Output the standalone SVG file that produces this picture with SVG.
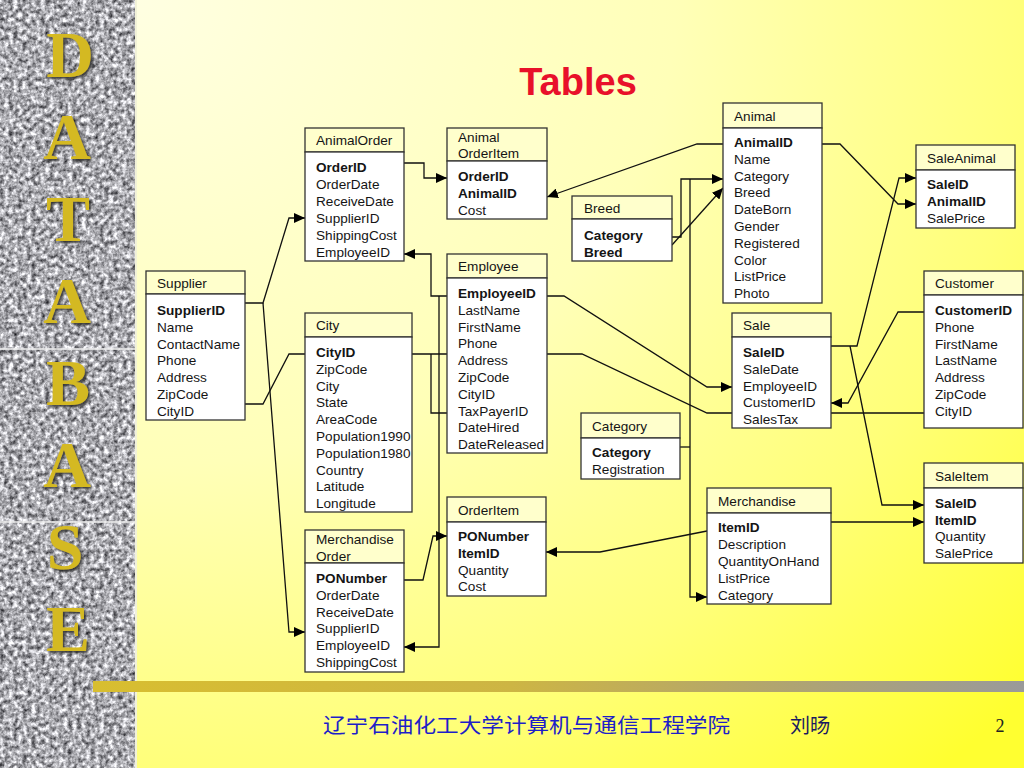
<svg xmlns="http://www.w3.org/2000/svg" width="1024" height="768" viewBox="0 0 1024 768">
<defs>
<radialGradient id="bg" cx="0" cy="0" r="1.35" gradientUnits="objectBoundingBox">
<stop offset="0" stop-color="#FFFFE2"/>
<stop offset="0.45" stop-color="#FFFFB8"/>
<stop offset="0.75" stop-color="#FFFF78"/>
<stop offset="1" stop-color="#FFFF30"/>
</radialGradient>
<linearGradient id="bar" x1="0" y1="0" x2="1" y2="0">
<stop offset="0" stop-color="#D8BE30"/>
<stop offset="0.45" stop-color="#CDB544"/>
<stop offset="0.75" stop-color="#AFA472"/>
<stop offset="1" stop-color="#9A9A9A"/>
</linearGradient>
<filter id="granite" filterUnits="userSpaceOnUse" x="0" y="0" width="137" height="768" color-interpolation-filters="sRGB">
<feTurbulence type="fractalNoise" baseFrequency="0.22" numOctaves="3" seed="4" result="n"/>
<feColorMatrix in="n" type="matrix" values="1.3 0 0 0 0.02  1.3 0 0 0 0.02  1.3 0 0 0 0.04  0 0 0 0 1"/>
</filter>
<filter id="shadow" x="-20%" y="-20%" width="150%" height="150%">
<feDropShadow dx="2" dy="2" stdDeviation="1" flood-color="#2a2a2a" flood-opacity="0.85"/>
</filter>
<marker id="arr" viewBox="0 0 11 10" refX="11" refY="5" markerWidth="11" markerHeight="10" markerUnits="userSpaceOnUse" orient="auto">
<path d="M0,0 L11,5 L0,10 z" fill="#000"/>
</marker>
<style>
.hdr{fill:#FFFFCC;stroke:#333;stroke-width:1.3}
.bdy{fill:#FFFFFF;stroke:#333;stroke-width:1.3}
.t{font-family:"Liberation Sans",Arial,sans-serif;font-size:13.6px;fill:#151515}
.b{font-weight:bold}
.c{fill:none;stroke:#111;stroke-width:1.3}
.ca{fill:none;stroke:#111;stroke-width:1.3;marker-end:url(#arr)}
.side{font-family:"Liberation Serif","Times New Roman",serif;font-weight:bold;font-size:66px;fill:#D4B924;text-anchor:middle}
</style>
</defs>

<!-- background -->
<rect x="137" y="0" width="887" height="768" fill="url(#bg)"/>
<rect x="0" y="0" width="137" height="768" fill="#aaa" filter="url(#granite)"/>
<line x1="136" y1="0" x2="136" y2="768" stroke="#F2F2D8" stroke-width="2"/>
<line x1="0" y1="349" x2="135" y2="349" stroke="#EEEEEE" stroke-width="1.5"/>
<line x1="0" y1="522" x2="135" y2="522" stroke="#EEEEEE" stroke-width="1.5"/>
<g filter="url(#shadow)">
<text class="side" x="70" y="77">D</text>
<text class="side" x="67" y="159">A</text>
<text class="side" x="68" y="241">T</text>
<text class="side" x="67" y="323">A</text>
<text class="side" x="68" y="405">B</text>
<text class="side" x="67" y="487">A</text>
<text class="side" x="65" y="569">S</text>
<text class="side" x="68" y="651">E</text>
</g>
<rect x="93" y="681" width="931" height="11" fill="url(#bar)"/>

<text x="578" y="95" font-family="'Liberation Sans',Arial,sans-serif" font-weight="bold" font-size="38" fill="#E8102A" text-anchor="middle">Tables</text>

<!-- connectors -->
<g id="connectors">
<path class="ca" d="M404,163 H424 V178 H447"/>
<path class="ca" d="M245,303 H263 L289,218 H305"/>
<path class="ca" d="M263,303 L289,632 H305"/>
<path class="c" d="M245,404 H263 L289,354 H305"/>
<path class="c" d="M412,354 H582 L707,413 H924"/>
<path class="c" d="M431,354 V413 H447"/>
<path class="ca" d="M447,296 H431 V254 H404"/>
<path class="ca" d="M439,296 V647 H404"/>
<path class="ca" d="M547,296 H564 L707,387 H732"/>
<path class="ca" d="M723,144 H697 L547,197"/>
<path class="ca" d="M672,237 H681 V179 H723"/>
<path class="ca" d="M672,245 L723,188"/>
<path class="c" d="M680,447 H690"/>
<path class="ca" d="M690,179 V597 H707"/>
<path class="ca" d="M822,144 H840 L898,204 H916"/>
<path class="ca" d="M831,346 H857 L899,178 H916"/>
<path class="ca" d="M850,346 L882,505 H924"/>
<path class="ca" d="M924,312 H898 L848,403 H831"/>
<path class="ca" d="M707,531 L600,552 H546"/>
<path class="ca" d="M831,522 H924"/>
<path class="ca" d="M404,580 H423 L433,536 H447"/>
</g>

<!-- nodes -->
<g id="AnimalOrder">
<rect class="hdr" x="305" y="128" width="99" height="24"/>
<rect class="bdy" x="305" y="152" width="99" height="109"/>
<text class="t" x="316" y="145">AnimalOrder</text>
<text class="t b" x="316" y="172">OrderID</text>
<text class="t" x="316" y="189">OrderDate</text>
<text class="t" x="316" y="206">ReceiveDate</text>
<text class="t" x="316" y="223">SupplierID</text>
<text class="t" x="316" y="240">ShippingCost</text>
<text class="t" x="316" y="257">EmployeeID</text>
</g>

<g id="Supplier">
<rect class="hdr" x="146" y="271" width="99" height="23"/>
<rect class="bdy" x="146" y="294" width="99" height="126"/>
<text class="t" x="157" y="288">Supplier</text>
<text class="t b" x="157" y="315">SupplierID</text>
<text class="t" x="157" y="331.8">Name</text>
<text class="t" x="157" y="348.6">ContactName</text>
<text class="t" x="157" y="365.4">Phone</text>
<text class="t" x="157" y="382.2">Address</text>
<text class="t" x="157" y="399">ZipCode</text>
<text class="t" x="157" y="415.8">CityID</text>
</g>

<g id="City">
<rect class="hdr" x="305" y="313" width="107" height="24"/>
<rect class="bdy" x="305" y="337" width="107" height="175"/>
<text class="t" x="316" y="330">City</text>
<text class="t b" x="316" y="357">CityID</text>
<text class="t" x="316" y="373.8">ZipCode</text>
<text class="t" x="316" y="390.6">City</text>
<text class="t" x="316" y="407.4">State</text>
<text class="t" x="316" y="424.2">AreaCode</text>
<text class="t" x="316" y="441">Population1990</text>
<text class="t" x="316" y="457.8">Population1980</text>
<text class="t" x="316" y="474.6">Country</text>
<text class="t" x="316" y="491.4">Latitude</text>
<text class="t" x="316" y="508.2">Longitude</text>
</g>

<g id="MerchandiseOrder">
<rect class="hdr" x="305" y="530" width="99" height="33"/>
<rect class="bdy" x="305" y="563" width="99" height="109"/>
<text class="t" x="316" y="544">Merchandise</text>
<text class="t" x="316" y="561">Order</text>
<text class="t b" x="316" y="583">PONumber</text>
<text class="t" x="316" y="599.8">OrderDate</text>
<text class="t" x="316" y="616.6">ReceiveDate</text>
<text class="t" x="316" y="633.4">SupplierID</text>
<text class="t" x="316" y="650.2">EmployeeID</text>
<text class="t" x="316" y="667">ShippingCost</text>
</g>

<g id="AnimalOrderItem">
<rect class="hdr" x="447" y="128" width="100" height="33"/>
<rect class="bdy" x="447" y="161" width="100" height="58"/>
<text class="t" x="458" y="142">Animal</text>
<text class="t" x="458" y="158">OrderItem</text>
<text class="t b" x="458" y="181">OrderID</text>
<text class="t b" x="458" y="198">AnimalID</text>
<text class="t" x="458" y="215">Cost</text>
</g>

<g id="Employee">
<rect class="hdr" x="447" y="254" width="100" height="24"/>
<rect class="bdy" x="447" y="278" width="100" height="175"/>
<text class="t" x="458" y="271">Employee</text>
<text class="t b" x="458" y="298">EmployeeID</text>
<text class="t" x="458" y="314.8">LastName</text>
<text class="t" x="458" y="331.6">FirstName</text>
<text class="t" x="458" y="348.4">Phone</text>
<text class="t" x="458" y="365.2">Address</text>
<text class="t" x="458" y="382">ZipCode</text>
<text class="t" x="458" y="398.8">CityID</text>
<text class="t" x="458" y="415.6">TaxPayerID</text>
<text class="t" x="458" y="432.4">DateHired</text>
<text class="t" x="458" y="449.2">DateReleased</text>
</g>

<g id="OrderItem">
<rect class="hdr" x="447" y="497" width="99" height="25"/>
<rect class="bdy" x="447" y="522" width="99" height="74"/>
<text class="t" x="458" y="515">OrderItem</text>
<text class="t b" x="458" y="541">PONumber</text>
<text class="t b" x="458" y="558">ItemID</text>
<text class="t" x="458" y="575">Quantity</text>
<text class="t" x="458" y="591">Cost</text>
</g>

<g id="Breed">
<rect class="hdr" x="572" y="196" width="100" height="23"/>
<rect class="bdy" x="572" y="219" width="100" height="42"/>
<text class="t" x="584" y="213">Breed</text>
<text class="t b" x="584" y="240">Category</text>
<text class="t b" x="584" y="257">Breed</text>
</g>

<g id="Category">
<rect class="hdr" x="581" y="413" width="99" height="25"/>
<rect class="bdy" x="581" y="438" width="99" height="41"/>
<text class="t" x="592" y="431">Category</text>
<text class="t b" x="592" y="457">Category</text>
<text class="t" x="592" y="474">Registration</text>
</g>

<g id="Animal">
<rect class="hdr" x="723" y="103" width="99" height="25"/>
<rect class="bdy" x="723" y="128" width="99" height="175"/>
<text class="t" x="734" y="121">Animal</text>
<text class="t b" x="734" y="147">AnimalID</text>
<text class="t" x="734" y="163.8">Name</text>
<text class="t" x="734" y="180.6">Category</text>
<text class="t" x="734" y="197.4">Breed</text>
<text class="t" x="734" y="214.2">DateBorn</text>
<text class="t" x="734" y="231">Gender</text>
<text class="t" x="734" y="247.8">Registered</text>
<text class="t" x="734" y="264.6">Color</text>
<text class="t" x="734" y="281.4">ListPrice</text>
<text class="t" x="734" y="298.2">Photo</text>
</g>

<g id="Sale">
<rect class="hdr" x="732" y="313" width="99" height="24"/>
<rect class="bdy" x="732" y="337" width="99" height="91"/>
<text class="t" x="743" y="330">Sale</text>
<text class="t b" x="743" y="357">SaleID</text>
<text class="t" x="743" y="374">SaleDate</text>
<text class="t" x="743" y="391">EmployeeID</text>
<text class="t" x="743" y="407">CustomerID</text>
<text class="t" x="743" y="424">SalesTax</text>
</g>

<g id="Merchandise">
<rect class="hdr" x="707" y="488" width="124" height="25"/>
<rect class="bdy" x="707" y="513" width="124" height="91"/>
<text class="t" x="718" y="506">Merchandise</text>
<text class="t b" x="718" y="532">ItemID</text>
<text class="t" x="718" y="549">Description</text>
<text class="t" x="718" y="566">QuantityOnHand</text>
<text class="t" x="718" y="583">ListPrice</text>
<text class="t" x="718" y="600">Category</text>
</g>

<g id="SaleAnimal">
<rect class="hdr" x="916" y="145" width="99" height="25"/>
<rect class="bdy" x="916" y="170" width="99" height="58"/>
<text class="t" x="927" y="163">SaleAnimal</text>
<text class="t b" x="927" y="189">SaleID</text>
<text class="t b" x="927" y="206">AnimalID</text>
<text class="t" x="927" y="223">SalePrice</text>
</g>

<g id="Customer">
<rect class="hdr" x="924" y="271" width="99" height="24"/>
<rect class="bdy" x="924" y="295" width="99" height="133"/>
<text class="t" x="935" y="288">Customer</text>
<text class="t b" x="935" y="315">CustomerID</text>
<text class="t" x="935" y="331.8">Phone</text>
<text class="t" x="935" y="348.6">FirstName</text>
<text class="t" x="935" y="365.4">LastName</text>
<text class="t" x="935" y="382.2">Address</text>
<text class="t" x="935" y="399">ZipCode</text>
<text class="t" x="935" y="415.8">CityID</text>
</g>

<g id="SaleItem">
<rect class="hdr" x="924" y="463" width="99" height="25"/>
<rect class="bdy" x="924" y="488" width="99" height="75"/>
<text class="t" x="935" y="481">SaleItem</text>
<text class="t b" x="935" y="508">SaleID</text>
<text class="t b" x="935" y="525">ItemID</text>
<text class="t" x="935" y="541">Quantity</text>
<text class="t" x="935" y="558">SalePrice</text>
</g>

<!-- footer -->
<text x="323" y="733" font-family="'Noto Sans CJK SC',sans-serif" font-size="20" fill="#1E1EC8" textLength="407" lengthAdjust="spacingAndGlyphs">辽宁石油化工大学计算机与通信工程学院</text>
<text x="790" y="733" font-family="'Noto Sans CJK SC',sans-serif" font-size="20" fill="#1A1A60">刘旸</text>
<text x="1000" y="732" font-family="'Liberation Serif',serif" font-size="18" fill="#222" text-anchor="middle">2</text>
</svg>
